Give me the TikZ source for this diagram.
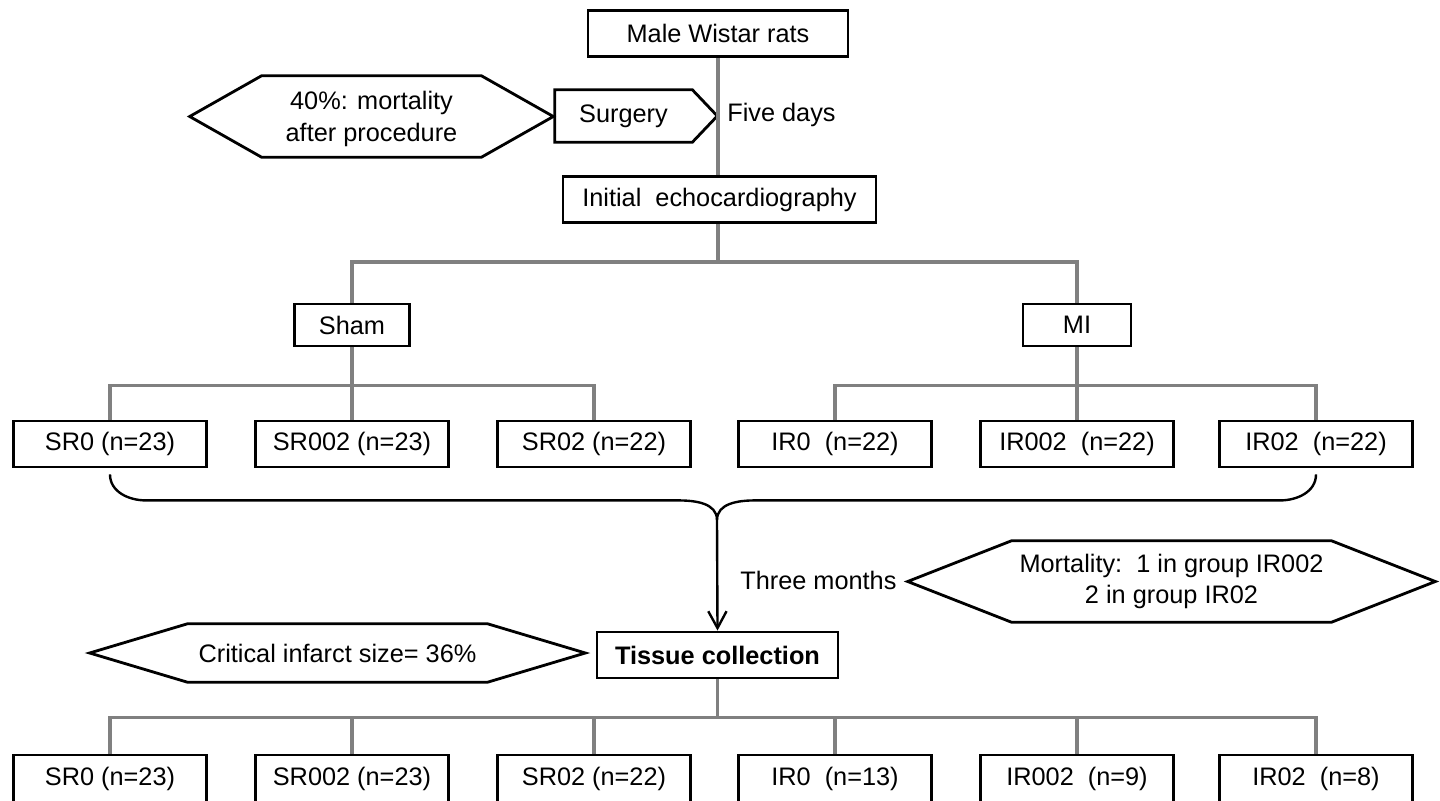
\documentclass[tikz,border=0pt]{standalone}
\usepackage{fontspec}
\setmainfont{Liberation Sans}
\usetikzlibrary{arrows.meta}

% outline of a pointed box round a text node: node name, tip length
\newcommand{\hexframe}[2]{%
  \draw[frame] (#1.north west) -- (#1.north east) -- ([xshift=#2]#1.east)
    -- (#1.south east) -- (#1.south west) -- ([xshift=-#2]#1.west) -- cycle;}

\begin{document}
\begin{tikzpicture}[
  x=0.025cm, y=-0.025cm,
  every node/.style={font=\fontsize{18}{22.5}\selectfont, inner sep=0pt},
  frame/.style={draw=black, line width=2pt, line join=miter},
  box/.style={frame, minimum height=1.15cm},
  group/.style={box, minimum width=4.825cm},
  link/.style={draw=gray, line width=2.2pt},
  brace/.style={draw=black, line width=1.7pt}
]
\useasboundingbox (0,0) rectangle (1440,801);
\clip (0,0) rectangle (1440,801);

% Start and surgery
\node[box, minimum width=6.5cm] (rats) at (718,33.5) {Male Wistar rats};
\node[minimum width=3.425cm, minimum height=1.3cm] (surgery) at (623.5,116) {Surgery};
\draw[frame] (surgery.north west) -- (surgery.north east) -- ([xshift=0.625cm]surgery.east)
  -- (surgery.south east) -- (surgery.south west) -- cycle;
\node[minimum width=5.475cm, minimum height=2.025cm, align=center] (loss) at (371.5,119)
  {40\%: mortality\\after procedure};
\draw[frame] ([yshift=0.0625cm]loss.north west) -- ([yshift=0.0625cm]loss.north east)
  -- ([xshift=1.8cm,yshift=0.0625cm]loss.east) -- ([yshift=0.0625cm]loss.south east)
  -- ([yshift=0.0625cm]loss.south west) -- ([xshift=-1.8cm,yshift=0.0625cm]loss.west) -- cycle;
\node[anchor=west] (days) at (727,115) {Five days};
\node[box, minimum width=7.825cm] (echo) at (719.5,199.5) {Initial\ \ echocardiography};

\draw[link] (rats.south) -- (rats.south |- echo.north);
\coordinate (topsplit) at (718,262);
\draw[link] (rats.south |- echo.south) -- (topsplit);

% Sham and MI
\node[box, minimum width=2.875cm, minimum height=1.05cm] (sham) at (352,325) {Sham};
\node[box, minimum width=2.7cm, minimum height=1.05cm] (mi) at (1077,325) {MI};
\draw[link] (sham.north) |- (topsplit) -| (mi.north);

% Groups after surgery
\node[group] (sr0) at (110,444) {SR0 (n=23)};
\node[group] (sr002) at (352,444) {SR002 (n=23)};
\node[group] (sr02) at (594,444) {SR02 (n=22)};
\node[group] (ir0) at (835,444) {IR0\ \ (n=22)};
\node[group] (ir002) at (1077,444) {IR002\ \ (n=22)};
\node[group] (ir02) at (1316,444) {IR02\ \ (n=22)};

\draw[link] (sham.south) -- ++(0,38) coordinate (shamsplit);
\draw[link] (sr0.north) |- (shamsplit) -| (sr02.north);
\draw[link] (sr002.north) -- (shamsplit);
\draw[link] (mi.south) -- ++(0,38) coordinate (misplit);
\draw[link] (ir0.north) |- (misplit) -| (ir02.north);
\draw[link] (ir002.north) -- (misplit);

% Three months
\coordinate (cusp) at (717,520);
\draw[brace] ([yshift=-0.15cm]sr0.south) to[out=-90,in=180] ++(36,26) -- ++(532,0)
  to[out=0,in=90] (cusp);
\draw[brace] ([yshift=-0.15cm]ir02.south) to[out=-90,in=0] ++(-36,26) -- ++(-525,0)
  to[out=180,in=90] (cusp);
\node[anchor=west] (months) at (740,580) {Three months};
\node[minimum width=7.975cm, minimum height=2.025cm, align=center] (deaths) at (1171.5,581.5)
  {Mortality:\ \ 1 in group IR002\\2 in group IR02};
\hexframe{deaths}{2.6cm}

% Tissue collection
\node[box, minimum width=6.025cm] (tissue) at (717.5,655) {\bfseries Tissue collection};
\draw[brace, -{Straight Barb[length=12pt,width=13pt]}] (cusp) -- (tissue.north);
\node[minimum width=7.475cm, minimum height=1.45cm] (infarct) at (337.5,653)
  {Critical infarct size= 36\%};
\hexframe{infarct}{2.45cm}

% Final groups
\node[group, minimum height=1.175cm] (sr0b) at (110,778.5) {SR0 (n=23)};
\node[group, minimum height=1.175cm] (sr002b) at (352,778.5) {SR002 (n=23)};
\node[group, minimum height=1.175cm] (sr02b) at (594,778.5) {SR02 (n=22)};
\node[group, minimum height=1.175cm] (ir0b) at (835,778.5) {IR0\ \ (n=13)};
\node[group, minimum height=1.175cm] (ir002b) at (1077,778.5) {IR002\ \ (n=9)};
\node[group, minimum height=1.175cm] (ir02b) at (1316,778.5) {IR02\ \ (n=8)};

\draw[link] (tissue.south) -- ++(0,38) coordinate (endsplit);
\draw[link] (sr0b.north) |- (endsplit) -| (ir02b.north);
\draw[link] (sr002b.north) -- (sr002b.north |- endsplit);
\draw[link] (sr02b.north) -- (sr02b.north |- endsplit);
\draw[link] (ir0b.north) -- (ir0b.north |- endsplit);
\draw[link] (ir002b.north) -- (ir002b.north |- endsplit);

\end{tikzpicture}
\end{document}
